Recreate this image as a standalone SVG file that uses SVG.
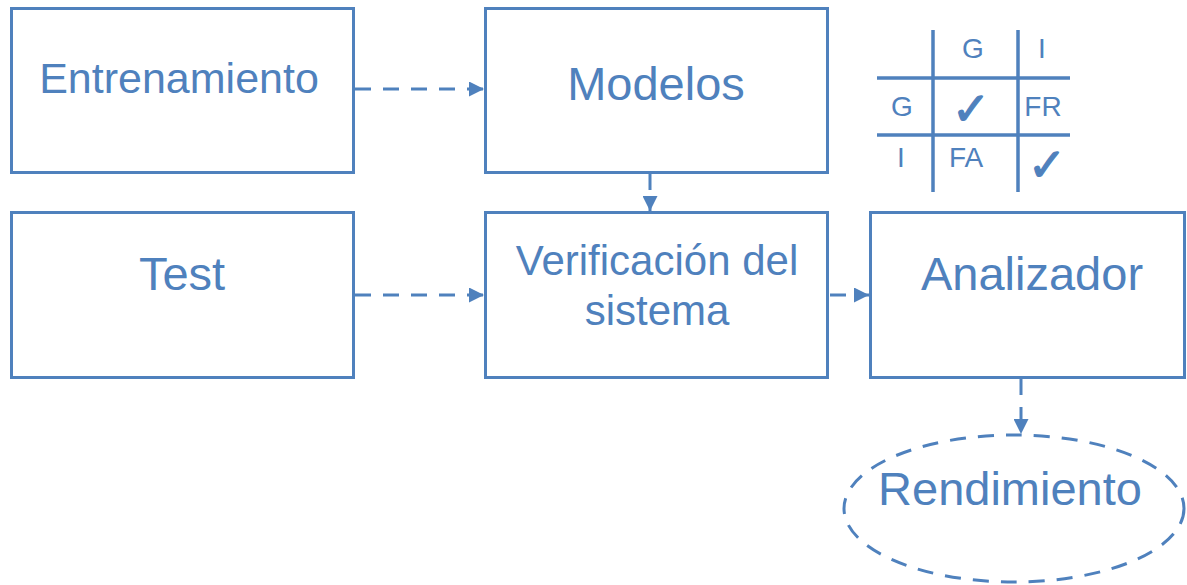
<svg xmlns="http://www.w3.org/2000/svg" width="1187" height="585" viewBox="0 0 1187 585">
  <style>
    .box { fill: #ffffff; stroke: #4f81bd; stroke-width: 3; }
    .lbl { font-family: "Liberation Sans", Arial, sans-serif; fill: #4f81bd; text-anchor: middle; }
    .conn { fill: none; stroke: #4f81bd; stroke-width: 3; stroke-dasharray: 16 12; }
    .grid { stroke: #4f81bd; stroke-width: 3.5; }
    .cell { font-family: "Liberation Sans", Arial, sans-serif; fill: #4f81bd; font-size: 28px; text-anchor: middle; }
    .tick { font-family: "DejaVu Sans", sans-serif; fill: #4f81bd; stroke: #4f81bd; stroke-width: 1.2; font-size: 46px; text-anchor: middle; }
  </style>
  <defs>
    <marker id="arrow" viewBox="0 0 10 10" refX="10" refY="5" markerWidth="5" markerHeight="5" markerUnits="strokeWidth" orient="auto">
      <path d="M0,0 L10,5 L0,10 Z" fill="#4f81bd"/>
    </marker>
  </defs>
  <rect width="1187" height="585" fill="#ffffff"/>

  <g id="connectors">
    <line class="conn" x1="355" y1="89" x2="484" y2="89" marker-end="url(#arrow)"/>
    <line class="conn" x1="650" y1="174" x2="650" y2="211" marker-end="url(#arrow)"/>
    <line class="conn" x1="355" y1="295" x2="484" y2="295" marker-end="url(#arrow)"/>
    <line class="conn" x1="830" y1="295" x2="869" y2="295" marker-end="url(#arrow)"/>
    <line class="conn" x1="1021" y1="379" x2="1021" y2="434" marker-end="url(#arrow)"/>
  </g>

  <g id="entrenamiento">
    <rect class="box" x="11.5" y="8.5" width="342" height="164"/>
    <text class="lbl" x="179" y="93" font-size="43">Entrenamiento</text>
  </g>
  <g id="modelos">
    <rect class="box" x="485.5" y="8.5" width="342" height="164"/>
    <text class="lbl" x="656" y="100" font-size="47">Modelos</text>
  </g>
  <g id="test">
    <rect class="box" x="11.5" y="212.5" width="342" height="165"/>
    <text class="lbl" x="182" y="290" font-size="47">Test</text>
  </g>
  <g id="verificacion">
    <rect class="box" x="485.5" y="212.5" width="342" height="165"/>
    <text class="lbl" x="657" y="275" font-size="42">Verificación del</text>
    <text class="lbl" x="657" y="325" font-size="42">sistema</text>
  </g>
  <g id="analizador">
    <rect class="box" x="870.5" y="212.5" width="314" height="165"/>
    <text class="lbl" x="1032" y="290" font-size="47">Analizador</text>
  </g>
  <g id="rendimiento">
    <ellipse cx="1014" cy="508.5" rx="170" ry="73.5" fill="#ffffff" stroke="#4f81bd" stroke-width="3" stroke-dasharray="16 12"/>
    <text class="lbl" x="1010" y="505" font-size="47">Rendimiento</text>
  </g>

  <g id="matriz">
    <line class="grid" x1="933" y1="30" x2="933" y2="192"/>
    <line class="grid" x1="1018" y1="30" x2="1018" y2="192"/>
    <line class="grid" x1="877" y1="78" x2="1070" y2="78"/>
    <line class="grid" x1="877" y1="135" x2="1070" y2="135"/>
    <text class="cell" x="973" y="58">G</text>
    <text class="cell" x="1042" y="58">I</text>
    <text class="cell" x="902" y="116">G</text>
    <text class="tick" x="971" y="125">✓</text>
    <text class="cell" x="1043" y="116">FR</text>
    <text class="cell" x="901" y="167">I</text>
    <text class="cell" x="966" y="167">FA</text>
    <text class="tick" x="1047" y="181">✓</text>
  </g>
</svg>
